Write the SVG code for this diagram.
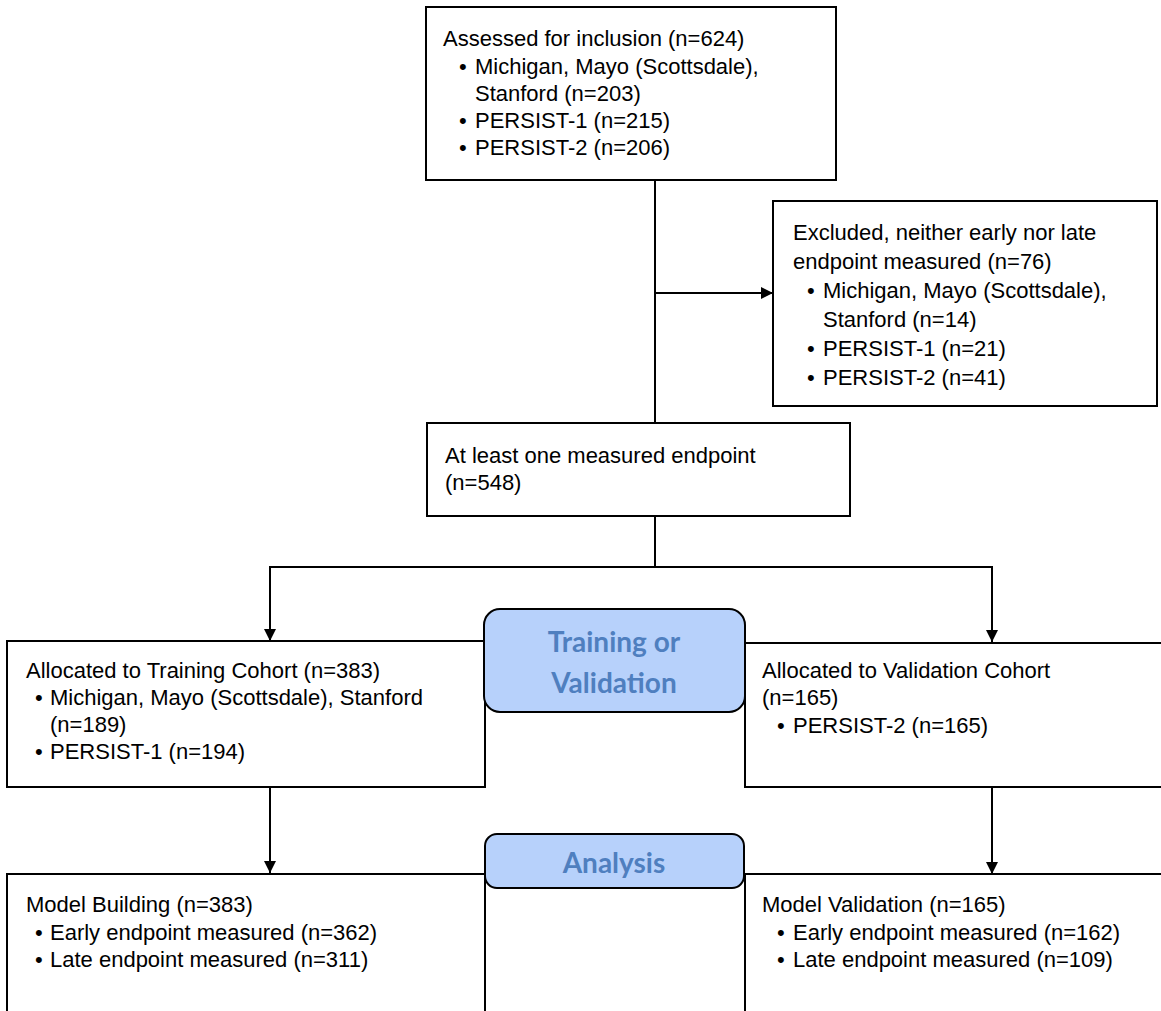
<svg xmlns="http://www.w3.org/2000/svg" width="1161" height="1011" viewBox="0 0 1161 1011">
<defs>
<marker id="arr" viewBox="0 0 12 12" refX="12" refY="6" markerWidth="12" markerHeight="12" markerUnits="userSpaceOnUse" orient="auto">
<path d="M0,0 L12,6 L0,12 Z" fill="#000"/>
</marker>
<style>
.box{fill:#fff;stroke:#000;stroke-width:2}
.phase{fill:#b7d1fb;stroke:#000;stroke-width:2}
.t{font-family:"Liberation Sans",Arial,sans-serif;font-size:22px;fill:#000}
.p{font-family:Lato,"Open Sans",sans-serif;font-weight:bold;font-size:28px;fill:#4f7fbf;text-anchor:middle}
.c{fill:none;stroke:#000;stroke-width:2}
</style>
</defs>
<rect width="1161" height="1011" fill="#fff"/>
<g id="connectors">
<path class="c" d="M655,180 V423"/>
<path class="c" d="M655,293 H773" marker-end="url(#arr)"/>
<path class="c" d="M655,516 V567"/>
<path class="c" d="M270,567 H992"/>
<path class="c" d="M270,566 V641" marker-end="url(#arr)"/>
<path class="c" d="M992,566 V642" marker-end="url(#arr)"/>
<path class="c" d="M270,787 V873" marker-end="url(#arr)"/>
<path class="c" d="M992,787 V874" marker-end="url(#arr)"/>
</g>
<g id="assessed">
<rect class="box" x="426" y="7" width="410" height="173"/>
<text class="t" x="443" y="46">Assessed for inclusion (n=624)</text>
<text class="t" x="459" y="74">•</text><text class="t" x="475" y="74">Michigan, Mayo (Scottsdale),</text>
<text class="t" x="475" y="101">Stanford (n=203)</text>
<text class="t" x="459" y="128">•</text><text class="t" x="475" y="128">PERSIST-1 (n=215)</text>
<text class="t" x="459" y="155">•</text><text class="t" x="475" y="155">PERSIST-2 (n=206)</text>
</g>
<g id="excluded">
<rect class="box" x="773" y="201" width="384" height="205"/>
<text class="t" x="793" y="240">Excluded, neither early nor late</text>
<text class="t" x="793" y="269">endpoint measured (n=76)</text>
<text class="t" x="807" y="298">•</text><text class="t" x="823" y="298">Michigan, Mayo (Scottsdale),</text>
<text class="t" x="823" y="327">Stanford (n=14)</text>
<text class="t" x="807" y="356">•</text><text class="t" x="823" y="356">PERSIST-1 (n=21)</text>
<text class="t" x="807" y="385">•</text><text class="t" x="823" y="385">PERSIST-2 (n=41)</text>
</g>
<g id="measured">
<rect class="box" x="427" y="423" width="423" height="93"/>
<text class="t" x="445" y="463">At least one measured endpoint</text>
<text class="t" x="445" y="490">(n=548)</text>
</g>
<g id="training">
<rect class="box" x="7" y="641" width="478" height="146"/>
<text class="t" x="26" y="678">Allocated to Training Cohort (n=383)</text>
<text class="t" x="35" y="705">•</text><text class="t" x="50" y="705">Michigan, Mayo (Scottsdale), Stanford</text>
<text class="t" x="50" y="732">(n=189)</text>
<text class="t" x="35" y="759">•</text><text class="t" x="50" y="759">PERSIST-1 (n=194)</text>
</g>
<g id="validation">
<rect class="box" x="745" y="643" width="430" height="144"/>
<text class="t" x="762" y="678">Allocated to Validation Cohort</text>
<text class="t" x="762" y="705">(n=165)</text>
<text class="t" x="777" y="733">•</text><text class="t" x="793" y="733">PERSIST-2 (n=165)</text>
</g>
<g id="phase-training">
<rect class="phase" x="484" y="609" width="261" height="103" rx="16"/>
<text class="p" x="614" y="652">Training or</text>
<text class="p" x="614" y="693">Validation</text>
</g>
<g id="model-building">
<rect class="box" x="7" y="874" width="478" height="150"/>
<text class="t" x="26" y="912">Model Building (n=383)</text>
<text class="t" x="35" y="940">•</text><text class="t" x="50" y="940">Early endpoint measured (n=362)</text>
<text class="t" x="35" y="967">•</text><text class="t" x="50" y="967">Late endpoint measured (n=311)</text>
</g>
<g id="model-validation">
<rect class="box" x="745" y="874" width="430" height="150"/>
<text class="t" x="762" y="912">Model Validation (n=165)</text>
<text class="t" x="777" y="940">•</text><text class="t" x="793" y="940">Early endpoint measured (n=162)</text>
<text class="t" x="777" y="967">•</text><text class="t" x="793" y="967">Late endpoint measured (n=109)</text>
</g>
<g id="phase-analysis">
<rect class="phase" x="485" y="834" width="259" height="54" rx="12"/>
<text class="p" x="614" y="873">Analysis</text>
</g>
</svg>
